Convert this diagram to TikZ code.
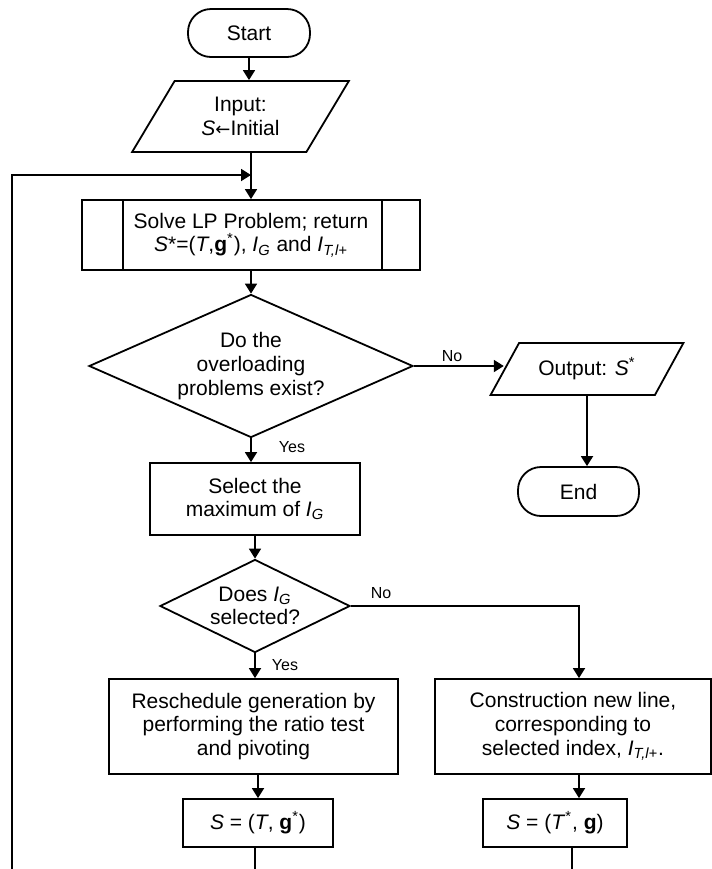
\documentclass[tikz,border=0pt]{standalone}
\usepackage{fontspec}
\setmainfont{Liberation Sans}
\newfontfamily\arrowfont{DejaVu Sans}
\usetikzlibrary{shapes.geometric,arrows.meta}

\begin{document}
\begin{tikzpicture}[x=0.5pt,y=-0.5pt,line width=0.9pt,
    every node/.style={font=\fontsize{10.5}{11.8}\selectfont},
    arr/.style={-{Triangle[length=5pt,width=6pt]}},
    terminal/.style={draw,rounded corners=11.5pt,minimum width=61pt,minimum height=24pt},
    io/.style={draw,trapezium,trapezium stretches=true,align=center,inner sep=2pt},
    proc/.style={draw,rectangle,align=center,inner sep=2pt},
    decision/.style={draw,diamond,align=center,inner sep=0pt},
    lbl/.style={font=\fontsize{8}{9}\selectfont}]
            \useasboundingbox (0,0) rectangle (712,869);

            \coordinate (Sp) at (249,33);
            \coordinate (Ip) at (240.5,116.5);
            \coordinate (Lp) at (251,235);
            \coordinate (D1p) at (251,366);
            \coordinate (Op) at (587,369);
            \coordinate (Ep) at (578.5,491.5);
            \coordinate (SLp) at (255,499);
            \coordinate (D2p) at (255,606);
            \coordinate (Rp) at (253.5,726.5);
            \coordinate (Cp) at (573,726.5);
            \coordinate (S1p) at (258,823);
            \coordinate (S2p) at (555,823);

            \coordinate (join) at (251,175);
            \coordinate (loop) at (12,869);
            \coordinate (turn) at (579,606);
            \coordinate (out1) at (255,869);
            \coordinate (out2) at (572,869);

            \node[terminal] (start) at (Sp) {Start};
            \node[io,trapezium left angle=59,trapezium right angle=121,minimum width=108.5pt,minimum height=35.5pt] (input) at (Ip) {Input:\\\textit{S}{\arrowfont\fontsize{9}{10}\selectfont ←}Initial};
            \node[proc,minimum width=169pt,minimum height=35pt] (lp) at (Lp) {Solve LP Problem; return\\\textit{S}*=(\textit{T},\textbf{g}\textsuperscript{*}), \textit{I}\textsubscript{\textit{G}} and \textit{I}\textsubscript{\textit{T,l+}}};
            \node[decision,aspect=2.27,minimum width=162pt,minimum height=71.5pt] (d1) at (D1p) {Do the\\overloading\\problems exist?};
            \node[io,trapezium left angle=54,trapezium right angle=126,minimum width=97pt,minimum height=26pt] (out) at (Op) {Output: \textit{S}\textsuperscript{*}};
            \node[terminal,minimum width=60.5pt,minimum height=24.5pt] (end) at (Ep) {End};
            \node[proc,minimum width=105pt,minimum height=36pt] (sel) at (SLp) {Select the\\maximum of \textit{I}\textsubscript{\textit{G}}};
            \node[decision,aspect=2.04,minimum width=95pt,minimum height=46.5pt] (d2) at (D2p) {Does \textit{I}\textsubscript{\textit{G}}\\selected?};
            \node[proc,minimum width=144.5pt,minimum height=47.5pt] (res) at (Rp) {Reschedule generation by\\performing the ratio test\\and pivoting};
            \node[proc,minimum width=138pt,minimum height=47.5pt] (con) at (Cp) {Construction new line,\\corresponding to\\selected index, \textit{I}\textsubscript{\textit{T,l+}}.};
            \node[proc,minimum width=75pt,minimum height=24pt] (s1) at (S1p) {\textit{S} = (\textit{T}, \textbf{g}\textsuperscript{*})};
            \node[proc,minimum width=72pt,minimum height=24pt] (s2) at (S2p) {\textit{S} = (\textit{T}\textsuperscript{*}, \textbf{g})};

            \node[lbl] (no1) at (452,356) {No};
            \node[lbl] (yes1) at (292,447) {Yes};
            \node[lbl] (no2) at (381,593) {No};
            \node[lbl] (yes2) at (285,665) {Yes};

            \draw ([xshift=21pt]lp.north west) -- ([xshift=21pt]lp.south west);
            \draw ([xshift=-19.5pt]lp.north east) -- ([xshift=-19.5pt]lp.south east);

            \draw[arr] (start.south) -- (start.south |- input.north);
            \draw[arr] (lp.north |- input.south) -- (lp.north);
            \draw[arr] (loop) |- (join);
            \draw[arr] (lp) -- (d1);
            \draw[arr] (d1.east) -- (d1.east -| out.west);
            \draw[arr] (out.south) -- (out.south |- end.north);
            \draw[arr] (d1.south) -- (d1.south |- sel.north);
            \draw[arr] (sel) -- (d2);
            \draw[arr] (d2.east) -- (turn) -- (turn |- con.north);
            \draw[arr] (d2.south) -- (d2.south |- res.north);
            \draw[arr] (s1.north |- res.south) -- (s1.north);
            \draw[arr] (turn |- con.south) -- (turn |- s2.north);
            \draw (out1 |- s1.south) -- (out1);
            \draw (out2 |- s2.south) -- (out2);

        \end{tikzpicture}
\end{document}
